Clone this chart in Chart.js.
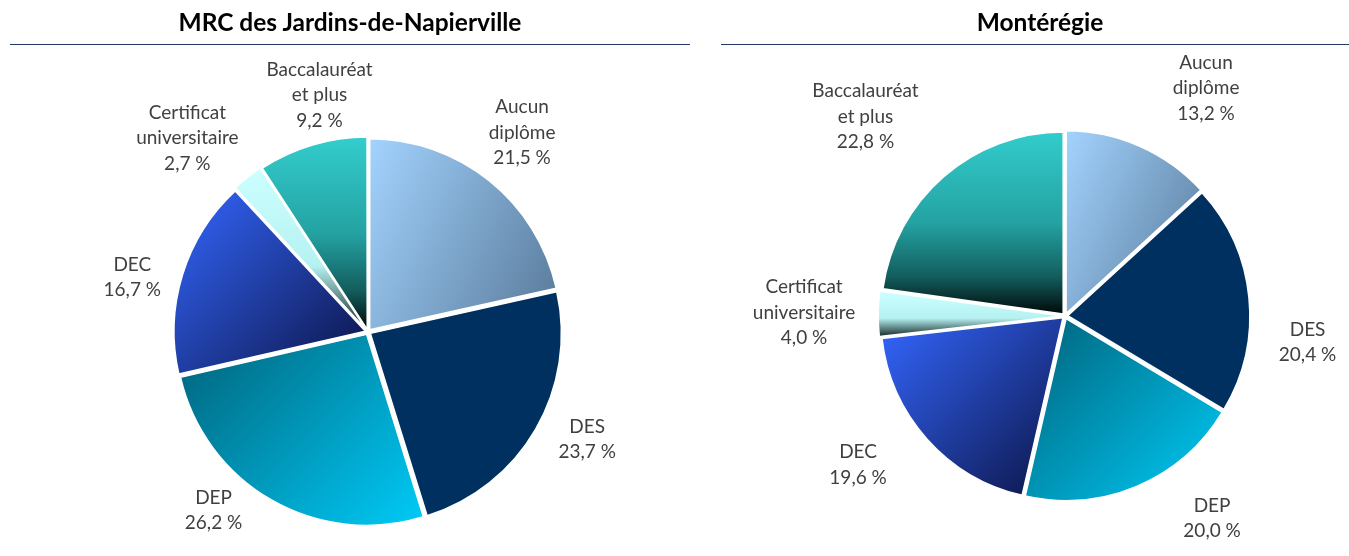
<!DOCTYPE html>
<html><head><meta charset="utf-8">
<script src="https://cdn.jsdelivr.net/npm/chart.js@4.4.1/dist/chart.umd.min.js"></script>
<style>
html,body{margin:0;padding:0;background:#fff;}
body{width:1349px;height:556px;position:relative;overflow:hidden;font-family:Lato,"Open Sans",sans-serif;}
.panel{position:absolute;top:0;height:556px;}
.title{position:absolute;top:7px;font-weight:bold;font-size:24.5px;color:#000;text-align:center;white-space:nowrap;line-height:30px;}
.rule{position:absolute;top:44px;height:0;border-top:1.5px solid #1f3864;}
</style></head>
<body>
<div class="panel" style="left:0;width:700px;"><canvas id="c1"></canvas></div>
<div class="panel" style="left:710px;width:639px;"><canvas id="c2"></canvas></div>
<div class="title" id="t1" style="left:0;width:700px;"></div>
<div class="rule" style="left:10px;width:680px;"></div>
<div class="title" id="t2" style="left:730px;width:620px;"></div>
<div class="rule" style="left:721px;width:628px;"></div>
<script>
const titles = ['MRC des Jardins-de-Napierville', 'Montérégie'];
const categories = ['Aucun diplôme', 'DES', 'DEP', 'DEC', 'Certificat universitaire', 'Baccalauréat et plus'];
const labelLines = [['Aucun', 'diplôme'], ['DES'], ['DEP'], ['DEC'], ['Certificat', 'universitaire'], ['Baccalauréat', 'et plus']];
const napiervilleValues = [21.5, 23.7, 26.2, 16.7, 2.7, 9.2];
const monteregieValues = [13.2, 20.4, 20.0, 19.6, 4.0, 22.8];

document.getElementById('t1').textContent = titles[0];
document.getElementById('t2').textContent = titles[1];

// fill styles per category (gradient direction in degrees, colour stops)
const sliceFills = [
  {angle: 25, stops: [[0, '#a3d3fe'], [1, '#587999']]},
  {angle: 0, stops: [[0, '#00305f'], [1, '#00305f']]},
  {angle: 45, stops: [[0, '#00627a'], [1, '#00cbf7']]},
  {angle: 45, stops: [[0, '#3467ff'], [1, '#0b1344']]},
  {angle: 90, stops: [[0, '#ccffff'], [0.6, '#b6f1f1'], [1, '#142626']]},
  {angle: 90, stops: [[0, '#33cccc'], [0.5, '#24a2a2'], [0.8, '#135c5c'], [1, '#000909']]}
];

function sectorBox(a) {
  const r = a.outerRadius, s = a.startAngle, e = a.endAngle;
  const pts = [[a.x, a.y], [a.x + r * Math.cos(s), a.y + r * Math.sin(s)], [a.x + r * Math.cos(e), a.y + r * Math.sin(e)]];
  for (let k = -2; k <= 6; k++) {
    const t = k * Math.PI / 2;
    if (t > s && t < e) pts.push([a.x + r * Math.cos(t), a.y + r * Math.sin(t)]);
  }
  const xs = pts.map(p => p[0]), ys = pts.map(p => p[1]);
  return {l: Math.min(...xs), r: Math.max(...xs), t: Math.min(...ys), b: Math.max(...ys)};
}

function makeFill(ctx, arc, fill) {
  const bx = sectorBox(arc);
  const th = fill.angle * Math.PI / 180, dx = Math.cos(th), dy = Math.sin(th);
  const cx = (bx.l + bx.r) / 2, cy = (bx.t + bx.b) / 2;
  const L = ((bx.r - bx.l) * Math.abs(dx) + (bx.b - bx.t) * Math.abs(dy)) / 2;
  const g = ctx.createLinearGradient(cx - dx * L, cy - dy * L, cx + dx * L, cy + dy * L);
  fill.stops.forEach(s => g.addColorStop(s[0], s[1]));
  return g;
}

const gradientPlugin = {
  id: 'sliceGradients',
  beforeDatasetsDraw(chart) {
    const meta = chart.getDatasetMeta(0);
    meta.data.forEach((arc, i) => {
      arc.options = Object.assign({}, arc.options, {backgroundColor: makeFill(chart.ctx, arc, sliceFills[i])});
    });
  }
};

function fmt(v) { return v.toFixed(1).replace('.', ',') + ' %'; }

const labelPlugin = {
  id: 'outerLabels',
  afterDatasetsDraw(chart, args, opts) {
    const ctx = chart.ctx, meta = chart.getDatasetMeta(0), vals = chart.data.datasets[0].data;
    ctx.save();
    ctx.font = '19px Lato, "Open Sans", sans-serif';
    ctx.fillStyle = '#404040';
    ctx.textAlign = 'center';
    ctx.textBaseline = 'middle';
    meta.data.forEach((arc, i) => {
      const mid = (arc.startAngle + arc.endAngle) / 2 + opts.angleNudge[i] * Math.PI / 180;
      const d = opts.dist[i];
      const x = arc.x + Math.cos(mid) * d, y = arc.y + Math.sin(mid) * d;
      const lines = labelLines[i].concat([fmt(vals[i])]);
      const lh = 25.5, y0 = y - (lines.length - 1) * lh / 2;
      lines.forEach((t, k) => ctx.fillText(t, x, y0 + k * lh));
    });
    ctx.restore();
  }
};

function makePie(id, values, radius, padding, labelOpts) {
  return new Chart(document.getElementById(id), {
    type: 'pie',
    data: {labels: categories, datasets: [{data: values, backgroundColor: '#888', borderColor: '#ffffff', borderWidth: 1.5, offset: 11}]},
    options: {
      responsive: true, maintainAspectRatio: false, animation: false,
      radius: radius,
      layout: {padding: padding},
      plugins: {legend: {display: false}, tooltip: {enabled: false}, title: {display: false}, outerLabels: labelOpts},
      events: []
    },
    plugins: [gradientPlugin, labelPlugin]
  });
}

makePie('c1', napiervilleValues, 191, {left: 36, right: 0, top: 108, bottom: 0},
  {dist: [252, 244, 236, 242, 265, 242], angleNudge: [-1, -4, 11, -4, -5, 5]});
makePie('c2', monteregieValues, 182, {left: 71, right: 0, top: 76, bottom: 0},
  {dist: [268, 244, 250, 255, 261, 282], angleNudge: [8, 12, -13, 6, 0, -4]});
</script>
</body></html>
